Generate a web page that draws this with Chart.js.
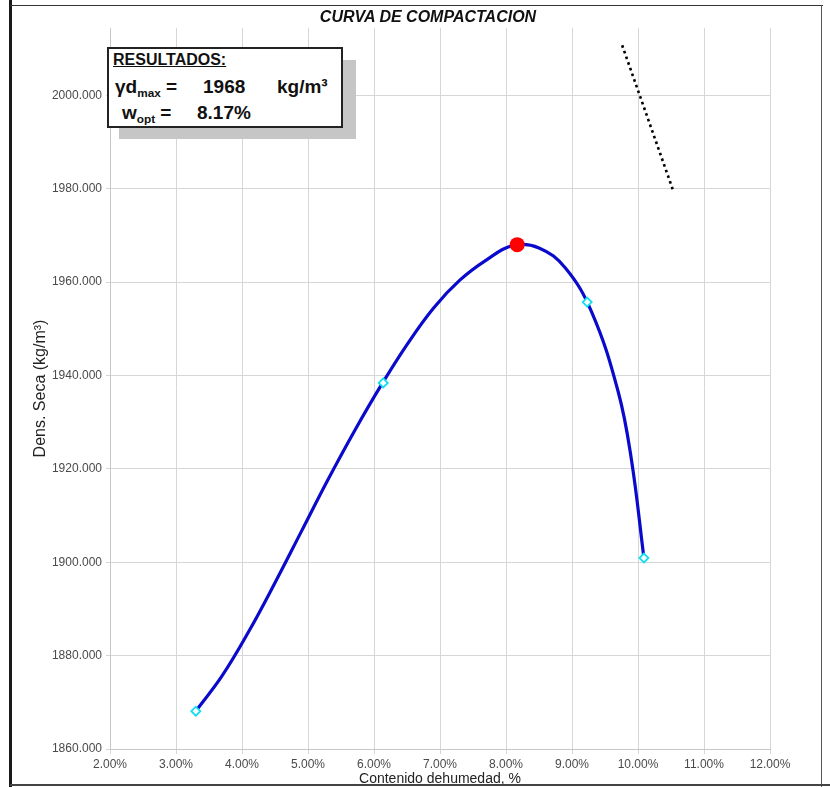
<!DOCTYPE html>
<html>
<head>
<meta charset="utf-8">
<script src="https://cdn.jsdelivr.net/npm/chart.js@4/dist/chart.umd.min.js"></script>
<style>
  html, body { margin: 0; padding: 0; background: #ffffff; }
  #wrap { position: relative; width: 830px; height: 787px; overflow: hidden; font-family: "Liberation Sans", Arial, sans-serif; }
  #c { position: absolute; left: 0; top: 0; }
  .ln { position: absolute; background: #1a1a1a; }
  #title { position: absolute; left: 0; width: 856px; top: 8px; text-align: center; font: italic bold 16px "Liberation Sans", Arial, sans-serif; color: #111; line-height: 18px; }
  #shadow { position: absolute; left: 119px; top: 60px; width: 237px; height: 79px; background: #c6c6c6; }
  #box { position: absolute; left: 107px; top: 47px; width: 232px; height: 77px; background: #fff; border: 2px solid #222; }
  .t { position: absolute; font-weight: bold; color: #111; white-space: nowrap; }
  .t sub { font-size: 62%; vertical-align: -0.35em; }
</style>
</head>
<body>
<div id="wrap">
  <canvas id="c" width="830" height="787"></canvas>
  <div class="ln" style="left:9px;top:0;width:3px;height:787px;"></div>
  <div class="ln" style="left:10px;top:5px;width:813px;height:1px;background:#333;"></div>
  <div class="ln" style="left:821px;top:5px;width:1px;height:782px;background:#555;"></div>
  <div class="ln" style="left:10px;top:784px;width:820px;height:2px;background:#444;"></div>
  <div id="title">CURVA DE COMPACTACION</div>
  <div id="shadow"></div>
  <div id="box"></div>
  <div class="t" style="left:113px;top:52px;font-size:16px;line-height:16px;text-decoration:underline;">RESULTADOS:</div>
  <div class="t" style="left:115px;top:77px;font-size:19px;line-height:19px;">&gamma;d<sub>max</sub> =</div>
  <div class="t" style="left:203px;top:77px;font-size:19px;line-height:19px;">1968</div>
  <div class="t" style="left:277px;top:77px;font-size:19px;line-height:19px;">kg/m&sup3;</div>
  <div class="t" style="left:122px;top:103px;font-size:19px;line-height:19px;">w<sub>opt</sub> =</div>
  <div class="t" style="left:197px;top:103px;font-size:19px;line-height:19px;">8.17%</div>
</div>
<script>
// Test points (moisture %, dry density kg/m3)
const testX = [3.30, 6.14, 9.23, 10.09];
const testY = [1868.1, 1938.4, 1955.7, 1900.9];
// Fitted compaction curve
const curveX = [3.30, 3.70, 4.10, 4.50, 4.90, 5.30, 5.70, 6.10, 6.50, 6.90, 7.30, 7.70, 8.10, 8.50, 8.90, 9.30, 9.70, 9.90, 10.09];
const curveY = [1868.1, 1875.7, 1885.1, 1895.6, 1906.6, 1917.6, 1928.0, 1937.7, 1946.6, 1954.4, 1960.4, 1964.7, 1967.8, 1967.3, 1963.0, 1953.5, 1936.5, 1922.0, 1900.9];
// Optimum point
const optX = [8.17];
const optY = [1968];
// Zero-air-voids (dotted) line
const zavX = [9.76, 10.53];
const zavY = [2010.7, 1979.7];
// Axis ticks
const xTicks = [2, 3, 4, 5, 6, 7, 8, 9, 10, 11, 12];
const yTicks = [1860, 1880, 1900, 1920, 1940, 1960, 1980, 2000];

const pts = (xs, ys) => xs.map((x, i) => ({ x: x, y: ys[i] }));

new Chart(document.getElementById('c'), {
  type: 'scatter',
  data: {
    datasets: [
      {
        data: pts(optX, optY), order: 0,
        pointRadius: 7.5, pointBackgroundColor: '#ff0000', pointBorderColor: '#ff0000', borderWidth: 0
      },
      {
        data: pts(testX, testY), order: 1,
        pointStyle: 'rectRot', pointRadius: 4.5, pointBorderWidth: 1.8,
        pointBorderColor: '#11dff0', pointBackgroundColor: '#ffffff'
      },
      {
        data: pts(curveX, curveY), order: 2, showLine: true,
        borderColor: '#0a0acc', borderWidth: 3.2, pointRadius: 0,
        tension: 0.4
      },
      {
        data: pts(zavX, zavY), order: 3, showLine: true,
        borderColor: '#000000', borderWidth: 2.6, borderDash: [2.6, 3.4], pointRadius: 0
      }
    ]
  },
  options: {
    responsive: false,
    animation: false,
    events: [],
    layout: { padding: { left: 0, right: 60, top: 28, bottom: 0 } },
    plugins: { legend: { display: false }, tooltip: { enabled: false }, title: { display: false } },
    scales: {
      x: {
        type: 'linear', min: 2, max: 12,
        afterFit: s => { s.height = 38; },
        afterBuildTicks: s => { s.ticks = xTicks.map(v => ({ value: v })); },
        ticks: {
          callback: v => v.toFixed(2) + '%',
          font: { family: '"Liberation Sans", Arial', size: 12 },
          color: '#4a4a4a', padding: 3, maxRotation: 0, autoSkip: false
        },
        grid: { color: '#d6d6d6', lineWidth: 1, tickLength: 5 },
        border: { color: '#c8c8c8' },
        title: {
          display: true, text: 'Contenido dehumedad, %',
          font: { family: '"Liberation Sans", Arial', size: 14 }, color: '#222',
          padding: { top: 0, bottom: -1 }
        }
      },
      y: {
        type: 'linear', min: 1860, max: 2014.4,
        afterFit: s => { s.width = 110; },
        afterBuildTicks: s => { s.ticks = yTicks.map(v => ({ value: v })); },
        ticks: {
          callback: v => v.toFixed(3),
          font: { family: '"Liberation Sans", Arial', size: 12 },
          color: '#4a4a4a', padding: 4
        },
        grid: { color: '#d6d6d6', lineWidth: 1, tickLength: 4 },
        border: { color: '#c8c8c8' },
        title: {
          display: true, text: 'Dens. Seca (kg/m³)',
          font: { family: '"Liberation Sans", Arial', size: 16 }, color: '#222',
          padding: { top: 31, bottom: 0 }
        }
      }
    }
  }
});
</script>
</body>
</html>
